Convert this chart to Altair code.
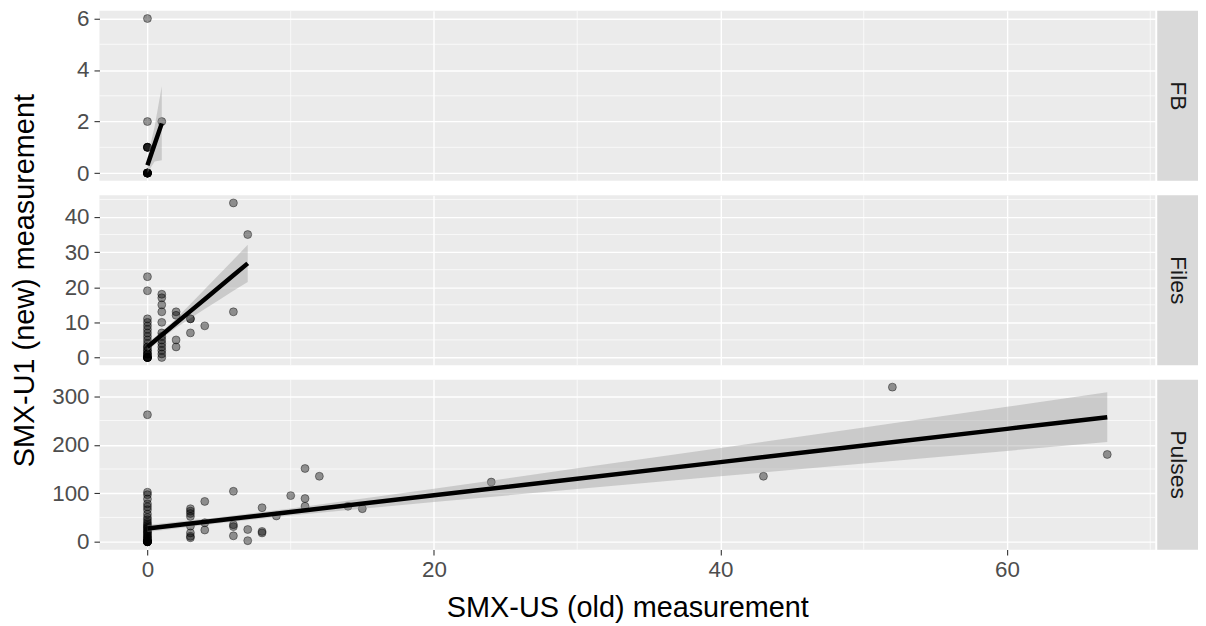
import altair as alt
import pandas as pd

# ---------------- data ----------------
facets = ["FB", "Files", "Pulses"]

fb_x = [0, 0, 0, 0, 0, 0, 0, 0, 0, 0, 0, 0, 0, 0, 1]
fb_y = [0, 0, 0, 0, 0, 0, 0, 0, 1, 1, 1, 1, 2, 6, 2]

files_x = ([0] * 23) + ([1] * 13) + [2, 2, 2, 2, 3, 3, 3, 4, 6, 6, 7]
files_y = [0, 0, 0, 0, 0, 0, 1, 1, 1, 2, 2, 3, 3, 4, 5, 6, 7, 8, 9, 10, 11, 19, 23,
           0, 1, 2, 3, 4, 5, 6, 7, 10, 13, 15, 17, 18,
           3, 5, 12, 13, 7, 11, 11, 9, 13, 44, 35]

pulses_x = ([0] * 34) + ([3] * 8) + [4, 4, 4, 6, 6, 6, 6, 7, 7, 8, 8, 8, 9, 10,
                                     11, 11, 11, 12, 14, 15, 24, 43, 52, 67]
pulses_y = [0, 0, 0, 0, 0, 0, 0, 0, 2, 4, 6, 8, 10, 12, 15, 18, 20, 22, 25, 28, 30,
            33, 36, 40, 45, 50, 57, 66, 72, 78, 88, 97, 102, 262,
            8, 11, 18, 32, 52, 58, 63, 68,
            24, 39, 83, 12, 31, 35, 104, 2, 25, 18, 21, 70, 53, 95,
            73, 89, 151, 135, 73, 68, 123, 135, 319, 180]

# fitted line and confidence band
fb_fit_x = [0, 0.5, 1]
fb_fit_y = [0.3, 1.12, 1.93]
fb_lo = [0.0, 0.45, 0.5]
fb_hi = [0.6, 1.8, 3.37]

files_fit_x = [0, 1, 2, 3, 4, 5, 6, 7]
files_fit_y = [3.0, 6.4, 9.8, 13.2, 16.6, 20.0, 23.4, 26.8]
files_lo = [1.8, 5.5, 8.5, 11.2, 13.8, 16.4, 19.0, 21.5]
files_hi = [4.2, 7.3, 11.1, 15.2, 19.4, 23.6, 27.8, 32.1]

pulses_fit_x = [0, 5, 10, 20, 30, 40, 50, 60, 67]
pulses_fit_y = [27.0, 44.2, 61.3, 95.6, 129.9, 164.2, 198.5, 232.8, 257.0]
pulses_lo = [19.7, 38.2, 54.0, 81.9, 108.5, 134.9, 161.1, 187.3, 205.8]
pulses_hi = [34.3, 50.2, 68.6, 109.3, 151.3, 193.5, 235.9, 278.3, 308.2]

# axes
x_major = [0, 20, 40, 60]
x_minor = [10, 30, 50, 70]
x_domain = [-3.35, 70.35]

fb_domain = [-0.3, 6.3]
fb_major = [0, 2, 4, 6]
fb_minor = [1, 3, 5]

files_domain = [-2.2, 46.2]
files_major = [0, 10, 20, 30, 40]
files_minor = [5, 15, 25, 35, 45]

pulses_domain = [-16.5, 334.5]
pulses_major = [0, 100, 200, 300]
pulses_minor = [50, 150, 250]

x_title = "SMX-US (old) measurement"
y_title = "SMX-U1 (new) measurement"

# ---------------- styling ----------------
W, H = 1062, 171
STRIP_GAP, STRIP_W = 2, 41
FONT = "Liberation Sans"
LABEL_SIZE = 22.5
TITLE_SIZE = 29


def make_panel(name, px, py, fx, fy, flo, fhi, ydom, ymaj, ymin, bottom, with_ytitle):
    xs = alt.Scale(domain=x_domain, nice=False, zero=False)
    ys = alt.Scale(domain=ydom, nice=False, zero=False)
    if bottom:
        xaxis = alt.Axis(values=x_major, title=x_title, grid=True, gridColor="white",
                         gridWidth=1.4, domain=False, tickColor="#333333", tickSize=5.5,
                         tickWidth=1.1, labelColor="#4D4D4D", labelFontSize=LABEL_SIZE,
                         labelPadding=4, titleFontSize=TITLE_SIZE, titleColor="black",
                         titleFontWeight="normal", titlePadding=12, labelFont=FONT,
                         titleFont=FONT)
    else:
        xaxis = alt.Axis(values=x_major, title=None, grid=True, gridColor="white",
                         gridWidth=1.4, domain=False, ticks=False, labels=False)
    ykw = dict(values=ymaj, grid=True, gridColor="white", gridWidth=1.4, domain=False,
               tickColor="#333333", tickSize=5.5, tickWidth=1.1, labelColor="#4D4D4D",
               labelFontSize=LABEL_SIZE, labelPadding=5, labelFont=FONT)
    if with_ytitle:
        ykw.update(title=y_title, titleFontSize=TITLE_SIZE, titleColor="black",
                   titleFontWeight="normal", titleFont=FONT, titleX=-75, titleY=H / 2,
                   titleAngle=270, titleAlign="center", titleBaseline="middle")
    else:
        ykw.update(title=None)
    yaxis = alt.Axis(**ykw)

    pts = pd.DataFrame({"x": px, "y": py})
    fit = pd.DataFrame({"x": fx, "y": fy, "lo": flo, "hi": fhi})

    xminor_layer = alt.Chart(pd.DataFrame({"v": x_minor})).mark_rule(
        color="white", strokeWidth=0.7
    ).encode(x=alt.X("v:Q", scale=xs, axis=xaxis))
    yminor_layer = alt.Chart(pd.DataFrame({"v": ymin})).mark_rule(
        color="white", strokeWidth=0.7
    ).encode(y=alt.Y("v:Q", scale=ys, axis=yaxis))

    points = alt.Chart(pts).mark_circle(
        size=64, fill="black", fillOpacity=0.4, stroke="black", strokeOpacity=0.4,
        strokeWidth=1, opacity=1
    ).encode(x=alt.X("x:Q", scale=xs, axis=xaxis), y=alt.Y("y:Q", scale=ys, axis=yaxis))

    band = alt.Chart(fit).mark_area(color="#999999", opacity=0.4).encode(
        x=alt.X("x:Q", scale=xs, axis=xaxis),
        y=alt.Y("lo:Q", scale=ys, axis=yaxis),
        y2="hi:Q",
    )
    line = alt.Chart(fit).mark_line(color="black", strokeWidth=4.5).encode(
        x=alt.X("x:Q", scale=xs, axis=xaxis), y=alt.Y("y:Q", scale=ys, axis=yaxis)
    )

    strip_df = pd.DataFrame({"label": [name]})
    strip_rect = alt.Chart(strip_df).mark_rect(color="#D9D9D9").encode(
        x=alt.value(W + STRIP_GAP), x2=alt.value(W + STRIP_GAP + STRIP_W),
        y=alt.value(0), y2=alt.value(H)
    )
    strip_text = alt.Chart(strip_df).mark_text(
        angle=90, fontSize=23, color="#1A1A1A", font=FONT,
        align="center", baseline="middle"
    ).encode(
        x=alt.value(W + STRIP_GAP + STRIP_W / 2), y=alt.value(H / 2),
        text="label:N"
    )

    return alt.layer(xminor_layer, yminor_layer, points, band, line, strip_rect,
                     strip_text).properties(width=W, height=H)


p_fb = make_panel(facets[0], fb_x, fb_y, fb_fit_x, fb_fit_y, fb_lo, fb_hi,
                  fb_domain, fb_major, fb_minor, False, False)
p_files = make_panel(facets[1], files_x, files_y, files_fit_x, files_fit_y, files_lo,
                     files_hi, files_domain, files_major, files_minor, False, True)
p_pulses = make_panel(facets[2], pulses_x, pulses_y, pulses_fit_x, pulses_fit_y,
                      pulses_lo, pulses_hi, pulses_domain, pulses_major, pulses_minor,
                      True, False)

chart = alt.vconcat(p_fb, p_files, p_pulses, spacing=14.5, bounds="flush").properties(
    padding={"left": 2, "top": -3, "right": 0, "bottom": 0}
).configure(font=FONT, background="white").configure_view(fill="#EBEBEB", stroke=None)

chart.save("out.html", embed_options={"renderer": "svg", "actions": False})
